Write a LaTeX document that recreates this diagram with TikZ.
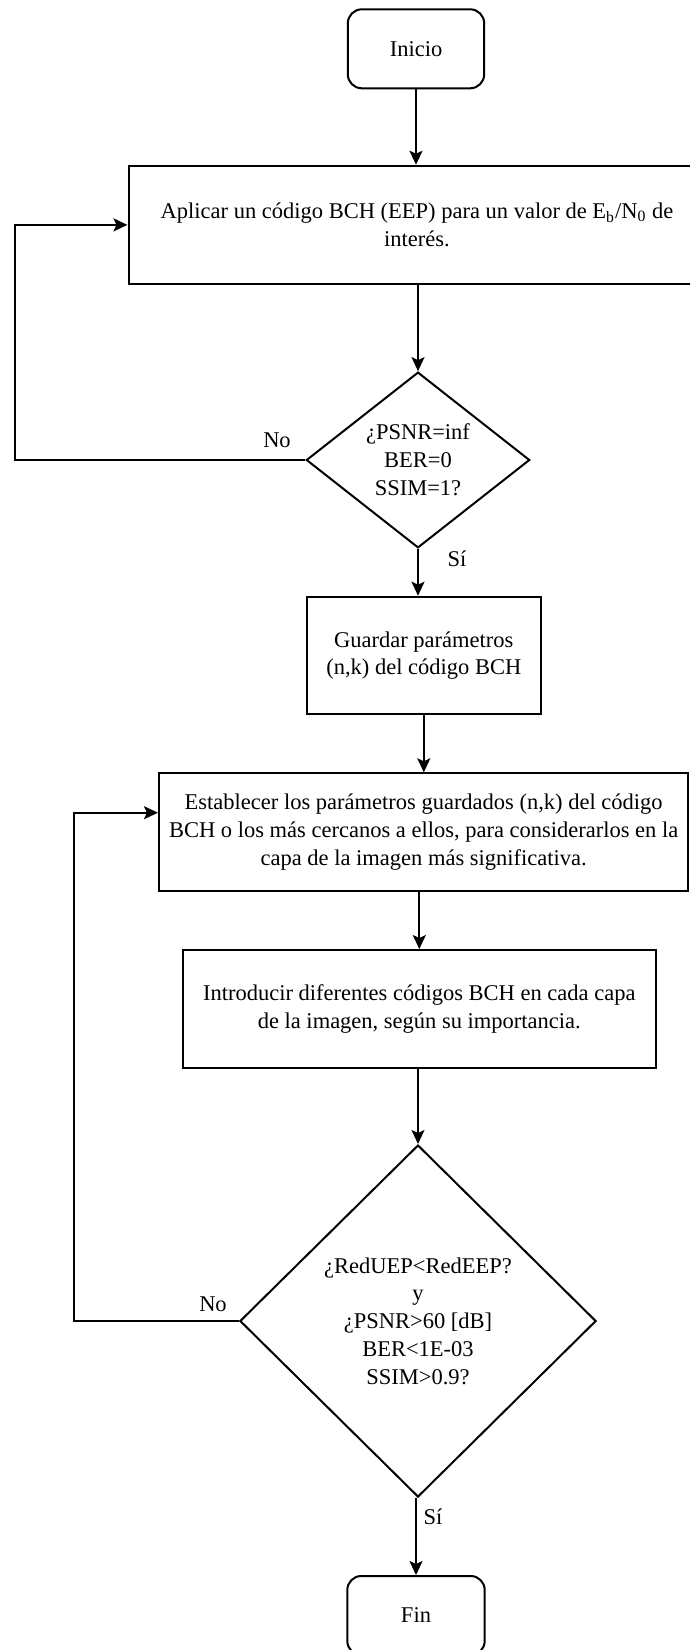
\documentclass[tikz,border=0pt]{standalone}
\usepackage{fontspec}
\setmainfont{Liberation Serif}
\usetikzlibrary{shapes.geometric,arrows.meta}
\tikzset{
  base/.style={draw=black, line width=1pt, inner sep=0pt, align=center,
    font=\fontsize{11.25pt}{13.9pt}\selectfont},
  terminal/.style={base, rounded corners=7pt},
  procbox/.style={base, rectangle},
  decision/.style={base, diamond},
  conn/.style={line width=1pt, -{Stealth[length=7pt,width=6.5pt,inset=1.5pt]}},
  lbl/.style={font=\fontsize{11.25pt}{13.9pt}\selectfont, inner sep=0pt}
}
\begin{document}
\begin{tikzpicture}[x=0.5pt,y=-0.5pt]
\useasboundingbox (0,0) rectangle (690,1650);
\clip (0,0) rectangle (690,1650);
\fill[white] (0,0) rectangle (690,1650);

\node[terminal, minimum width=68.2pt, minimum height=39.5pt] (ini) at (416,48.8) {Inicio};
\node[procbox, minimum width=288.5pt, minimum height=59.15pt] (apl) at (417,224.9)
  {Aplicar un código BCH (EEP) para un valor de E\textsubscript{b}/N\textsubscript{0} de\\interés.};
\node[decision, minimum width=111.7pt, minimum height=78pt] (d1) at (418,460)
  {¿PSNR=inf\\BER=0\\SSIM=1?};
\node[procbox, minimum width=117.25pt, minimum height=58.8pt] (gua) at (423.8,655.5)
  {Guardar parámetros\\(n,k) del código BCH};
\node[procbox, minimum width=264.75pt, minimum height=58.7pt] (est) at (423.7,832)
  {Establecer los parámetros guardados (n,k) del código\\BCH o los más cercanos a ellos, para considerarlos en la\\capa de la imagen más significativa.};
\node[procbox, minimum width=236.25pt, minimum height=58.85pt] (int) at (419.3,1008.9)
  {Introducir diferentes códigos BCH en cada capa\\de la imagen, según su importancia.};
\node[decision, minimum width=178.1pt, minimum height=176pt] (d2) at (418,1321)
  {¿RedUEP<RedEEP?\\y\\¿PSNR>60 [dB]\\BER<1E-03\\SSIM>0.9?};
\node[terminal, minimum width=68.7pt, minimum height=39.5pt] (fin) at (416,1615.5) {Fin};

% coordinates for loops
\coordinate (l1b) at (15.4,460);
\coordinate (l1t) at (15.4,224.9);
\coordinate (l2b) at (73.5,1321);
\coordinate (l2t) at (73.5,812.7);

\draw[conn] (ini.south) -- (ini.south |- apl.north);
\draw[conn] (d1.north |- apl.south) -- (d1.north);
\draw[conn] (d1.south) -- (d1.south |- gua.north);
\draw[conn] (gua.south) -- (gua.south |- est.north);
\draw[conn] (int.north |- est.south) -- (int.north);
\draw[conn] (d2.north |- int.south) -- (d2.north);
\draw[conn] (fin.north |- d2.south) -- (fin.north);

\draw[conn] (d1.west) -- (l1b) -- (l1t) -- (apl.west);
\draw[conn] (d2.west) -- (l2b) -- (l2t) -- (l2t -| est.west);

\node[lbl] (no1) at (277,440) {No};
\node[lbl] (si1) at (457,559) {Sí};
\node[lbl] (no2) at (213,1304) {No};
\node[lbl] (si2) at (433,1517) {Sí};
\end{tikzpicture}
\end{document}
